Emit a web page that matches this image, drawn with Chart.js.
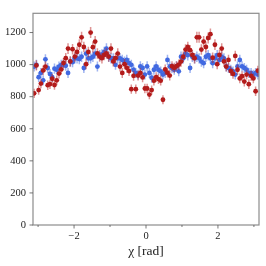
<!DOCTYPE html>
<html>
<head>
<meta charset="utf-8">
<script src="https://cdn.jsdelivr.net/npm/chart.js@4.4.1/dist/chart.umd.min.js"></script>
<style>
  html, body { margin: 0; padding: 0; background: #fff; }
  #wrap { width: 266px; height: 266px; }
</style>
</head>
<body>
<div id="wrap"><canvas id="chart" width="266" height="266"></canvas></div>
<script>
// chi binning (-pi .. pi), counts per bin
const nBins = 100;
const redCounts = [
    821, 995, 841, 882, 964, 988, 872, 878, 912, 873,
    902, 944, 970, 1010, 1040, 1100, 1020, 1096, 1050, 1079,
    1124, 1170, 1110, 1003, 1079, 1200, 1109, 1144, 1070, 1050,
    1040, 1060, 1070, 1050, 1100, 1020, 1040, 1069, 988, 948,
    1003, 980, 960, 847, 930, 847, 932, 948, 920, 851,
    851, 813, 841, 900, 922, 910, 900, 781, 970, 950,
    932, 990, 980, 990, 1000, 1019, 1049, 1094, 1110, 1090,
    1060, 1040, 1170, 1170, 1094, 1144, 1110, 1166, 1190, 1043,
    1124, 1003, 1060, 1100, 1020, 988, 1029, 960, 942, 1054,
    968, 914, 928, 894, 938, 878, 930, 914, 834, 962
];
const blueCounts = [
    988, 999, 922, 948, 902, 1033, 979, 942, 922, 975,
    968, 988, 999, 999, 993, 948, 1019, 1015, 1039, 1039,
    1035, 1049, 979, 1069, 1039, 1039, 1049, 1069, 988, 1059,
    1063, 1079, 1100, 1049, 1039, 1039, 999, 1039, 1039, 1029,
    1019, 1029, 1009, 999, 968, 948, 938, 989, 979, 938,
    989, 948, 918, 968, 989, 968, 958, 938, 948, 1029,
    989, 979, 968, 989, 958, 1049, 1039, 1069, 1059, 979,
    1049, 1039, 1049, 1039, 1019, 1009, 1049, 1059, 1039, 1009,
    1039, 1059, 1029, 1049, 1039, 989, 979, 968, 958, 938,
    989, 1029, 989, 979, 968, 948, 948, 938, 948, 938
];
const yTicks = [0, 200, 400, 600, 800, 1000, 1200];
const xTicks = [-3, -2, -1, 0, 1, 2, 3];
const xLabelled = [-2, 0, 2];

const binWidth = 2 * Math.PI / nBins;
const binCenters = Array.from({ length: nBins }, (_, i) => -Math.PI + (i + 0.5) * binWidth);

function toPoints(counts) {
    return counts.map((c, i) => ({ x: binCenters[i], y: c, err: Math.sqrt(c) }));
}

const SERIF = "'Liberation Serif', 'DejaVu Serif', serif";

// error bars drawn under each dataset's markers
const errorBars = {
    id: 'errorBars',
    beforeDatasetDraw(chart, args) {
        const ds = chart.data.datasets[args.index];
        const xs = chart.scales.x, ys = chart.scales.y;
        const ctx = chart.ctx;
        ctx.save();
        ctx.strokeStyle = ds.errColor;
        ctx.lineWidth = 1.5;
        ctx.beginPath();
        ds.data.forEach(p => {
            const px = xs.getPixelForValue(p.x);
            const py = ys.getPixelForValue(p.y);
            ctx.moveTo(px, ys.getPixelForValue(p.y - p.err));
            ctx.lineTo(px, ys.getPixelForValue(p.y + p.err));
            ctx.moveTo(xs.getPixelForValue(p.x - binWidth / 2), py);
            ctx.lineTo(xs.getPixelForValue(p.x + binWidth / 2), py);
        });
        ctx.stroke();
        ctx.restore();
    }
};

// box frame + tick marks
const frame = {
    id: 'frame',
    afterDraw(chart) {
        const { ctx, chartArea: a } = chart;
        const xs = chart.scales.x, ys = chart.scales.y;
        ctx.save();
        ctx.strokeStyle = '#8c8c8c';
        ctx.lineWidth = 1.2;
        ctx.strokeRect(a.left, a.top, a.right - a.left, a.bottom - a.top);
        ctx.strokeStyle = '#555';
        ctx.lineWidth = 0.8;
        ctx.beginPath();
        yTicks.forEach(v => {
            const py = ys.getPixelForValue(v);
            ctx.moveTo(a.left - 3.5, py);
            ctx.lineTo(a.left, py);
        });
        xTicks.forEach(v => {
            const px = xs.getPixelForValue(v);
            const len = xLabelled.includes(v) ? 3.5 : 2;
            ctx.moveTo(px, a.bottom);
            ctx.lineTo(px, a.bottom + len);
        });
        ctx.stroke();
        ctx.restore();
    }
};

new Chart(document.getElementById('chart'), {
    type: 'scatter',
    data: {
        datasets: [
            {
                label: 'red',
                data: toPoints(redCounts),
                backgroundColor: '#b31b1b',
                errColor: 'rgba(190, 40, 40, 0.5)',
                pointRadius: 2.4,
                pointBorderWidth: 0
            },
            {
                label: 'blue',
                data: toPoints(blueCounts),
                backgroundColor: '#4169e1',
                errColor: 'rgba(65, 105, 225, 0.5)',
                pointRadius: 2.4,
                pointBorderWidth: 0
            }
        ]
    },
    options: {
        responsive: false,
        animation: false,
        events: [],
        layout: { padding: { left: 0, top: 7, right: 7, bottom: 0 } },
        plugins: {
            legend: { display: false },
            tooltip: { enabled: false }
        },
        scales: {
            x: {
                type: 'linear',
                min: -Math.PI,
                max: Math.PI,
                grid: { display: false, drawTicks: false },
                border: { display: false },
                afterBuildTicks: scale => {
                    scale.ticks = xTicks.map(v => ({ value: v }));
                },
                afterFit: scale => { scale.height = 41; },
                ticks: {
                    autoSkip: false,
                    maxRotation: 0,
                    padding: 5,
                    color: '#222',
                    font: { family: SERIF, size: 10.5 },
                    callback: v => xLabelled.includes(v) ? String(v).replace('-', '\u2212') : ''
                },
                title: {
                    display: true,
                    text: 'χ [rad]',
                    color: '#222',
                    font: { family: SERIF, size: 13.5 },
                    padding: { top: 0, bottom: 6 }
                }
            },
            y: {
                type: 'linear',
                min: 0,
                max: 1320,
                grid: { display: false, drawTicks: false },
                border: { display: false },
                afterBuildTicks: scale => {
                    scale.ticks = yTicks.map(v => ({ value: v }));
                },
                afterFit: scale => { scale.width = 33; },
                ticks: {
                    padding: 7,
                    color: '#222',
                    font: { family: SERIF, size: 10.5 },
                    callback: v => String(v)
                }
            }
        }
    },
    plugins: [errorBars, frame]
});
</script>
</body>
</html>
